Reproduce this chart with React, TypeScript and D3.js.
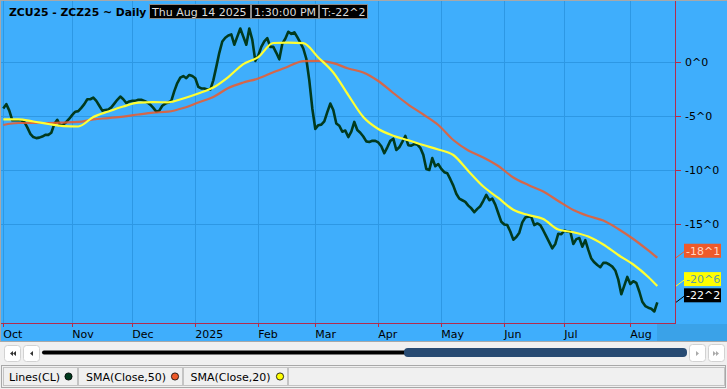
import React, { useEffect } from 'react';
import * as d3 from 'd3';

// ---------- DATA ----------
const monthLabels = ['Oct', 'Nov', 'Dec', '2025', 'Feb', 'Mar', 'Apr', 'May', 'Jun', 'Jul', 'Aug'];

const closeOct = [-4.3, -3.9, -4.5, -5.4, -5.4, -5.4, -5.4, -5.55, -6.05, -6.65, -6.95, -7.05, -7.0, -6.9, -6.75, -6.75, -6.55, -5.75, -5.35, -5.9, -5.8, -5.55, -5.25];
const closeNov = [-4.9, -4.6, -4.55, -4.25, -3.9, -3.45, -3.45, -3.3, -3.6, -4.05, -4.5, -4.45, -4.4, -4.2, -3.85, -3.5, -3.2, -3.45, -3.8, -3.65];
const closeDec = [-3.6, -3.6, -3.5, -3.5, -3.6, -3.75, -3.95, -4.25, -4.6, -4.5, -4.05, -3.85, -3.75, -3.6, -2.7, -1.95, -1.45, -1.3, -1.5, -1.2, -1.3];
const closeJan = [-1.5, -2.3, -2.45, -2.45, -2.55, -2.55, -1.7, -0.45, 0.85, 1.9, 2.25, 2.45, 2.55, 1.6, 2.35, 3.1, 2.35, 1.6, 3.1, 2.05, 0.1];
const closeFeb = [0.6, 1.4, 1.9, 2.2, 1.4, 1.4, 0.85, 0.25, 1.7, 2.15, 2.8, 2.6, 2.75, 2.3, 1.8, 1.25, 0.3, -1.7, -4.3];
const closeMar = [-6.2, -5.85, -5.8, -5.5, -4.65, -3.85, -4.45, -5.7, -5.9, -6.45, -6.35, -6.95, -6.45, -5.55, -6.3, -6.55, -6.9, -7.35, -7.4, -7.3, -7.3];
const closeApr = [-7.45, -7.8, -8.45, -7.9, -7.3, -7.1, -8.15, -7.9, -7.4, -6.85, -7.7, -7.75, -7.6, -7.65, -7.95, -8.6, -9.9, -10.0, -8.9, -9.65, -9.45];
const closeMay = [-9.9, -10.2, -10.3, -10.85, -11.45, -12.2, -12.65, -12.8, -12.95, -13.3, -13.55, -13.9, -13.6, -13.35, -12.85, -12.3, -12.8, -12.65, -13.2, -14.0, -14.8];
const closeJun = [-15.05, -15.1, -15.7, -16.45, -16.2, -15.8, -14.85, -14.4, -14.3, -14.35, -15.1, -14.95, -15.1, -15.6, -16.15, -16.7, -17.25, -16.85, -15.9, -15.95];
const closeJul = [-15.6, -15.7, -15.7, -16.85, -16.4, -16.3, -17.1, -16.5, -17.4, -18.2, -18.55, -18.8, -19.0, -18.6, -18.6, -18.75, -18.95, -19.3, -20.15, -21.5, -20.7, -19.9];
const closeAug = [-20.55, -20.3, -20.45, -21.25, -22.2, -22.6, -22.75, -22.85, -23.1, -22.25];

const closeByMonth = [closeOct, closeNov, closeDec, closeJan, closeFeb, closeMar, closeApr, closeMay, closeJun, closeJul, closeAug];

const smaDays = [0, 5, 10, 15, 20, 25, 30, 35, 40, 45, 50, 55, 60, 65, 70, 75, 80, 85, 90, 95, 100, 105, 110, 115, 120, 125, 130, 135, 140, 145, 150, 155, 160, 165, 170, 175, 180, 185, 190, 195, 200, 205, 210, 215, 218];
const sma20 = [-5.31, -5.31, -5.51, -5.74, -5.93, -5.97, -5.09, -4.58, -4.12, -3.77, -3.72, -3.73, -3.38, -2.92, -2.36, -1.39, -0.19, 0.46, 1.76, 1.79, 1.74, 0.42, -0.97, -3.06, -5.09, -6.2, -6.82, -7.25, -7.69, -8.1, -8.61, -10.09, -11.53, -12.59, -13.68, -14.17, -14.54, -15.51, -15.76, -16.16, -16.9, -17.87, -18.75, -19.91, -20.75];
const sma50 = [-5.83, -5.65, -5.65, -5.65, -5.61, -5.55, -5.32, -5.19, -5.05, -4.86, -4.69, -4.6, -4.26, -3.75, -3.24, -2.41, -1.9, -1.53, -0.95, -0.42, 0.09, 0.11, -0.11, -0.6, -0.97, -1.76, -2.87, -3.94, -4.86, -5.83, -7.22, -8.19, -8.84, -9.63, -10.69, -11.39, -11.99, -12.87, -13.7, -14.26, -14.68, -15.46, -16.39, -17.45, -18.125];

const yTicks = [0, -5, -10, -15];
const legendNames = ['Lines(CL)', 'SMA(Close,50)', 'SMA(Close,20)'];
const titleText = 'ZCU25 - ZCZ25 ~ Daily';
const headerBoxes = ['Thu Aug 14 2025', '1:30:00 PM', 'T:-22^2'];

// ---------- HELPERS ----------
function fmt(v: number): string {
  const neg = v < 0;
  const a = Math.abs(v);
  const w = Math.floor(a + 1e-9);
  const e = Math.round((a - w) * 8);
  return `${neg ? '-' : ''}${w}^${e}`;
}

const FONT = 'DejaVu Sans, Verdana, sans-serif';
const BG = '#3faefc';
const GRID = '#2d98e4';
const AXIS = '#b22c4c';
const C_CLOSE = '#013a1e';
const C_50 = '#ee5a2a';
const C_20 = '#ffff33';

export default function App() {
  useEffect(() => {
    document.body.style.margin = '0';
  }, []);

  const W = 727;
  const H = 389;
  const plotL = 1, plotR = 675, plotT = 1, plotB = 323;

  const close = closeByMonth.flat();
  const monthStart: number[] = [];
  let acc = 0;
  closeByMonth.forEach((m) => { monthStart.push(acc); acc += m.length; });
  const n = close.length;

  const x = d3.scaleLinear().domain([0, n - 1]).range([3.3, 657.3]);
  const y = d3.scaleLinear().domain([0, -15]).range([62, 224]);

  const closeLine = d3.line<number>().x((_, i) => x(i)).y((d) => y(d));
  const smaLine = d3.line<[number, number]>().x((d) => x(d[0])).y((d) => y(d[1])).curve(d3.curveMonotoneX);
  const s20 = smaDays.map((d, i) => [d, sma20[i]] as [number, number]);
  const s50 = smaDays.map((d, i) => [d, sma50[i]] as [number, number]);

  const lastVals = [
    { v: sma50[sma50.length - 1], fill: C_50, text: '#ffd6c6', line: C_50 },
    { v: sma20[sma20.length - 1], fill: '#ffff00', text: '#5f9ea0', line: C_20 },
    { v: close[n - 1], fill: '#000000', text: '#ffffff', line: '#000000' },
  ];

  // header boxes geometry
  const boxW = [101, 67, 48];
  let bx = 149;
  const boxes = headerBoxes.map((t, i) => { const r = { t, x: bx, w: boxW[i] }; bx += boxW[i] + 1; return r; });

  const legendCells = [
    { x: 3, w: 74, name: legendNames[0], tx: 9, cx: 68.5, color: C_CLOSE },
    { x: 78, w: 104, name: legendNames[1], tx: 86, cx: 175, color: C_50 },
    { x: 183, w: 104, name: legendNames[2], tx: 190.5, cx: 280, color: '#ffff00' },
  ];

  return (
    <svg width={W} height={H} style={{ display: 'block', fontFamily: FONT }}>
      <defs>
        <clipPath id="plotclip">
          <rect x={plotL} y={plotT} width={plotR - plotL} height={plotB - plotT} />
        </clipPath>
      </defs>
      <rect x={0} y={0} width={W} height={H} fill="#f0f0f0" />
      {/* chart background */}
      <rect x={0.5} y={0.5} width={W} height={341} fill={BG} stroke="#a8a8a8" />
      <rect x={657} y={324} width={70} height={17} fill="#3aa2e8" />

      {/* grid */}
      {yTicks.map((t) => (
        <line key={'gy' + t} x1={plotL} x2={plotR} y1={Math.round(y(t)) + 0.5} y2={Math.round(y(t)) + 0.5} stroke={GRID} strokeWidth={1} />
      ))}
      {monthStart.map((s, i) => (
        <line key={'gx' + i} x1={Math.round(x(s)) + 0.5} x2={Math.round(x(s)) + 0.5} y1={plotT} y2={plotB} stroke={GRID} strokeWidth={1} />
      ))}

      {/* series */}
      <g clipPath="url(#plotclip)">
        <path d={closeLine(close) || ''} fill="none" stroke={C_CLOSE} strokeWidth={2.6} strokeLinejoin="round" />
        <path d={smaLine(s50) || ''} fill="none" stroke={C_50} strokeWidth={2.2} opacity={0.85} />
        <path d={smaLine(s20) || ''} fill="none" stroke={C_20} strokeWidth={2.2} />
      </g>

      {/* axes */}
      <line x1={plotR + 0.5} x2={plotR + 0.5} y1={plotT} y2={plotB + 1} stroke={AXIS} strokeWidth={1} />
      <line x1={plotL} x2={plotR + 1} y1={plotB + 0.5} y2={plotB + 0.5} stroke={AXIS} strokeWidth={1} />
      {yTicks.map((t) => (
        <g key={'ty' + t}>
          <line x1={plotR} x2={plotR + 6} y1={Math.round(y(t)) + 0.5} y2={Math.round(y(t)) + 0.5} stroke={AXIS} />
          <text x={685} y={y(t) + 4} fontSize={11} fill="#000">{fmt(t)}</text>
        </g>
      ))}
      {monthStart.map((s, i) => (
        <g key={'tx' + i}>
          <line x1={Math.round(x(s)) + 0.5} x2={Math.round(x(s)) + 0.5} y1={plotB} y2={plotB + 4} stroke={AXIS} />
          <text x={x(s)} y={338} fontSize={11} fill="#000">{monthLabels[i]}</text>
        </g>
      ))}

      {/* last value labels */}
      {lastVals.map((l, i) => {
        const yy = y(l.v);
        return (
          <g key={'lv' + i}>
            <line x1={plotR + 1} y1={yy} x2={684} y2={yy - 6} stroke={l.line} strokeWidth={1} />
            <rect x={684} y={yy - 14} width={37} height={14} fill={l.fill} />
            <text x={686} y={yy - 3} fontSize={11} fill={l.text}>{fmt(l.v)}</text>
          </g>
        );
      })}

      {/* title */}
      <text x={9} y={16} fontSize={10.8} fontWeight="bold" fill="#000">{titleText}</text>
      {boxes.map((b, i) => (
        <g key={'hb' + i}>
          <rect x={b.x + 0.5} y={4.5} width={b.w} height={14} fill="#000" stroke="#8a8a8a" />
          <text x={b.x + 3} y={16} fontSize={11} fill="#dcdcdc">{b.t}</text>
        </g>
      ))}

      {/* scrollbar */}
      <rect x={0} y={342} width={W} height={22} fill="#f0f0f0" />
      <rect x={4.5} y={345.5} width={16} height={16} rx={3} fill="#fff" stroke="#d2d2d2" />
      <path d="M 9 351 L 12 353.5 L 9 356 Z M 12 351 L 15 353.5 L 12 356 Z" fill="#333" transform="rotate(180 12.5 353.5)" />
      <rect x={23.5} y={345.5} width={16} height={16} rx={3} fill="#fff" stroke="#d2d2d2" />
      <path d="M 30 353.5 L 33 351 L 33 356 Z" fill="#333" />
      <rect x={42} y={350.5} width={366} height={4} rx={2} fill="#000" />
      <rect x={404} y={348} width={283} height={9} rx={4} fill="#274a72" />
      <rect x={689.5} y={344.5} width={16} height={17} rx={3} fill="#fff" stroke="#d2d2d2" />
      <path d="M 696 351 L 699 353.5 L 696 356 Z" fill="#aaa" />
      <rect x={708.5} y={344.5} width={16} height={17} rx={3} fill="#fff" stroke="#d2d2d2" />
      <path d="M 713 351 L 716 353.5 L 713 356 Z M 716 351 L 719 353.5 L 716 356 Z" fill="#aaa" />

      {/* legend */}
      <rect x={1.5} y={365.5} width={724} height={22} fill="#f0f0f0" stroke="#a8a8a8" />
      {legendCells.map((c, i) => (
        <g key={'lg' + i}>
          <rect x={c.x + 0.5} y={367.5} width={c.w} height={18} fill="#f0f0f0" stroke="#c4c4c4" />
          <text x={c.tx} y={381} fontSize={11} fill="#000">{c.name}</text>
          <circle cx={c.cx} cy={376.5} r={3.6} fill={c.color} stroke="#000" strokeWidth={0.8} />
        </g>
      ))}
      <rect x={288.5} y={367.5} width={436} height={18} fill="#f0f0f0" stroke="#c4c4c4" />
    </svg>
  );
}
